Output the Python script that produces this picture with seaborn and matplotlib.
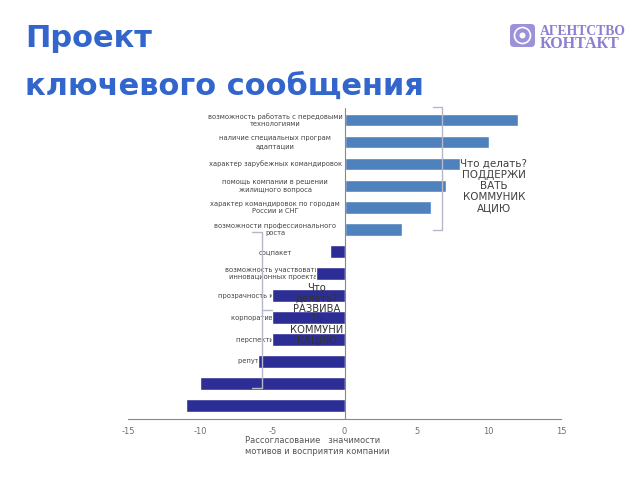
#%% IMPORTS
import matplotlib
matplotlib.use("Agg")
import matplotlib.pyplot as plt
from matplotlib.patches import FancyBboxPatch, Circle
import pandas as pd
import seaborn as sns

#%% DATA
motives = [
    "возможность работать с передовыми\nтехнологиями",
    "наличие специальных програм\nадаптации",
    "характер зарубежных командировок",
    "помощь компании в решении\nжилищного вопроса",
    "характер командировок по городам\nРоссии и СНГ",
    "возможности профессионального\nроста",
    "соцпакет",
    "возможность участвовать в\nинновационных проектах",
    "прозрачность карьерного роста",
    "корпоративная культура",
    "перспективы карьеры",
    "репутация компании",
    "уровень зарплаты",
    "стабильность компании",
]
gap = [12, 10, 8, 7, 6, 4, -1, -2, -5, -5, -5, -6, -10, -11]
group = ["support"] * 6 + ["develop"] * 8

tick_values = [-15, -10, -5, 0, 5, 10, 15]
x_title = "Рассогласование   значимости\nмотивов и восприятия компании"
title_lines = ["Проект", "ключевого сообщения"]
note_support = "Что делать?\nПОДДЕРЖИ\nВАТЬ\nКОММУНИК\nАЦИЮ"
note_develop = "Что\nделать?\nРАЗВИВА\nТЬ\nКОММУНИ\nКАЦИЮ"
logo_lines = ["АГЕНТСТВО", "КОНТАКТ"]

df = pd.DataFrame({"motive": motives, "gap": gap, "group": group})

#%% STYLE
sns.set_style("white")
plt.rcParams["font.family"] = ["DejaVu Sans"]

colors = {"support": "#4f81bd", "develop": "#2d2d96"}


def px(x, y):
    """pixel position (from top-left) -> figure fraction"""
    return x / 640, 1 - y / 480


#%% FIGURE
fig = plt.figure(figsize=(6.4, 4.8), dpi=100)
fig.patch.set_facecolor("white")

left, top = px(128, 108)
right, bottom = px(561, 419)
ax = fig.add_axes([left, bottom, right - left, top - bottom])

sns.barplot(data=df, x="gap", y="motive", hue="group", palette=colors,
            orient="h", dodge=False, legend=False, width=0.58,
            saturation=1, ax=ax)
for bar in ax.patches:
    bar.set_zorder(3)

ax.set_xlim(-15, 15)
ax.set_ylim(13.62, -0.55)
ax.set_xticks(tick_values)
ax.set_xticklabels([str(v) for v in tick_values], fontsize=6, color="#707070")
ax.set_yticks([])
ax.set_xlabel("")
ax.set_ylabel("")
ax.tick_params(axis="x", direction="inout", length=4, width=0.8,
               color="#888888", pad=4)
for side in ["left", "top", "right"]:
    ax.spines[side].set_visible(False)
ax.spines["bottom"].set_color("#888888")
ax.spines["bottom"].set_linewidth(0.8)
ax.axvline(0, color="#888888", lw=0.8, zorder=4)

# category labels sit inside the plot, centred left of zero (under the bars)
for i, name in enumerate(motives):
    ax.text(-4.8, i, name, ha="center", va="center", fontsize=4.9,
            color="#444444", linespacing=1.25, zorder=1)

#%% OVERLAY: title, logo, notes, brackets
ov = fig.add_axes([0, 0, 1, 1], zorder=5)
ov.set_xlim(0, 640)
ov.set_ylim(480, 0)
ov.axis("off")
ov.patch.set_alpha(0)

ov.text(25, 47, title_lines[0], fontsize=22, weight="bold", color="#3366cc",
        va="baseline")
ov.text(25, 95, title_lines[1], fontsize=22, weight="bold", color="#3366cc",
        va="baseline")

# logo
ov.add_patch(FancyBboxPatch((510, 24), 25, 23, boxstyle="round,pad=0,rounding_size=4",
                            fc="#9c92d9", ec="none"))
ov.add_patch(Circle((522.5, 35.5), 8, fc="none", ec="white", lw=1.2))
ov.add_patch(Circle((522.5, 35.5), 3, fc="white", ec="none"))
ov.text(540, 35, logo_lines[0], fontsize=9.8, weight="bold", color="#8a7fd0",
        family="Liberation Serif", va="baseline")
ov.text(540, 48, logo_lines[1], fontsize=11.5, weight="bold", color="#8a7fd0",
        family="Liberation Serif", va="baseline")

ov.text(494, 186, note_support, fontsize=7.5, color="#404040", ha="center",
        va="center", linespacing=1.15)
ov.text(317, 314, note_develop, fontsize=7.2, color="#333333", ha="center",
        va="center", linespacing=1.05)

# right bracket around the "support" group
bc = "#b4b8c8"
ov.plot([433, 442, 442, 433], [107, 107, 230, 230], color=bc, lw=1)
# left brace around the "develop" group
ov.plot([252, 262, 262, 272], [232, 232, 310, 310], color=bc, lw=1)
ov.plot([262, 262, 252], [310, 388, 388], color=bc, lw=1)

ov.text(245, 436, x_title, fontsize=6, color="#555555", ha="left", va="top",
        linespacing=1.25)

fig.savefig("out.png", dpi=100, facecolor="white")
